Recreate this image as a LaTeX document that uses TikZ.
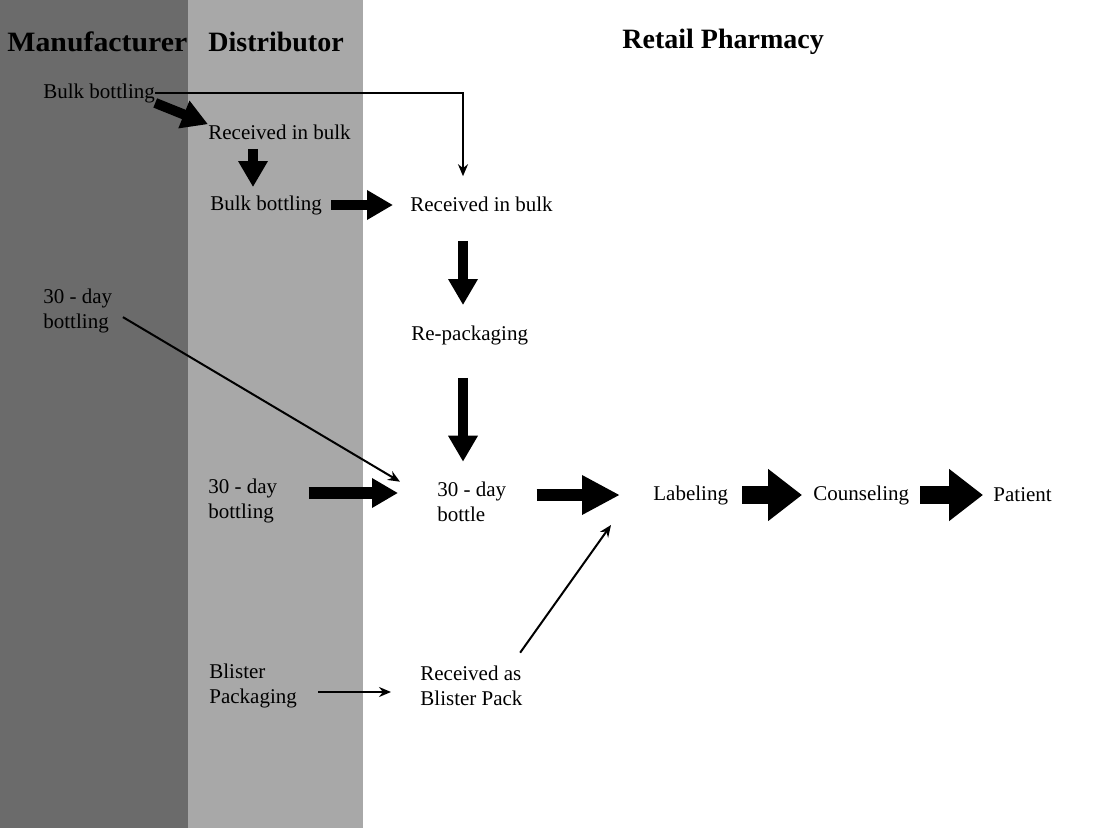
\documentclass[tikz,border=0pt]{standalone}
\usepackage{fontspec}
\usepackage{graphicx}
\setmainfont{Liberation Serif}
\usetikzlibrary{arrows.meta}
\definecolor{manufgray}{gray}{0.42}
\definecolor{distgray}{gray}{0.66}
\tikzset{>=stealth}
\tikzset{
	% text styles
	lbl/.style={anchor=west,inner sep=0pt,align=left,font=\fontsize{10.5}{12.5}\selectfont},
	ttl/.style={anchor=west,inner sep=0pt,font=\fontsize{14}{16}\selectfont\bfseries},
	% arrow styles
	medarrow/.style={line width=5pt,-{Triangle[width=14pt,length=13pt]}},
	bigarrow/.style={line width=6pt,-{Triangle[width=18.5pt,length=19pt]}},
	hugearrow/.style={line width=9pt,-{Triangle[width=25pt,length=17pt]}},
	thinarrow/.style={line width=1pt,-{Stealth[length=6pt,width=5pt]}},
}

\begin{document}
\begin{tikzpicture}[x=0.5pt,y=-0.5pt]
	\useasboundingbox (0,0) rectangle (1101,828);
	\fill[manufgray] (0,0) rectangle (188,828);
	\fill[distgray] (188,0) rectangle (363,828);
	
	\node[ttl] (tman) at (7,42) {\scalebox{1.065}[1]{Manufacturer}};
	\node[ttl] (tdist) at (208,42) {Distributor};
	\node[ttl] (tretail) at (622,42) {Retail Pharmacy};
	
	\coordinate (daxis) at (253,0);
	\coordinate (raxis) at (463,0);
	\coordinate (join) at (611,525);
	
	\node[lbl] (mbulk) at (43,93) {Bulk bottling};
	\node[lbl] (drecv) at (208,132) {Received in bulk};
	\node[lbl] (dbulk) at (210,205) {Bulk bottling};
	\node[lbl] (rbulk) at (410,204) {Received in bulk};
	\node[lbl] (repack) at (411,335) {Re-packaging};
	\node[lbl] (m30) at (43,311) {30 - day\\bottling};
	\node[lbl] (d30) at (208,501) {30 - day\\bottling};
	\node[lbl] (rbottle) at (437,502) {30 - day\\bottle};
	\node[lbl] (dblister) at (209,686) {Blister\\Packaging};
	\node[lbl] (rblister) at (420,686) {Received as\\Blister Pack};
	\node[lbl] (label) at (653,495) {Labeling};
	\node[lbl] (counsel) at (813,495) {Counseling};
	\node[lbl] (patient) at (993,495) {Patient};
	
	% bulk path
	\draw[medarrow] (mbulk.south east) -- (drecv.north west);
	\draw[thinarrow] (mbulk.east) -| ([yshift=10pt]rbulk.north -| raxis);
	\draw[medarrow,shorten <=4.5pt,shorten >=4pt] (drecv.south -| daxis) -- (dbulk.north -| daxis);
	\draw[medarrow,shorten <=4.5pt,shorten >=8.5pt] (dbulk.east) -- (dbulk.east -| rbulk.west);
	\draw[medarrow,shorten <=14.5pt,shorten >=10pt] (rbulk.south -| raxis) -- (repack.north -| raxis);
	\draw[medarrow,shorten <=16.5pt,shorten >=10pt] (repack.south -| raxis) -- (rbottle.north -| raxis);
	
	% 30-day path
	\draw[thinarrow,shorten <=6pt] (m30.east) -- ([xshift=-18.5pt]rbottle.north west);
	\draw[medarrow,line width=6pt,shorten <=15.5pt,shorten >=19.5pt] ([yshift=4pt]d30.east) -- ([yshift=4pt]d30.east -| rbottle.west);
	\draw[bigarrow,shorten <=15pt,shorten >=16.5pt] (rbottle.east |- label.west) -- (label.west);
	
	% blister path
	\draw[thinarrow,shorten <=10.5pt,shorten >=14.5pt] ([yshift=-3pt]dblister.east) -- ([yshift=-3pt]dblister.east -| rblister.west);
	\draw[thinarrow,shorten <=8pt] ([xshift=-6pt]rblister.north east) -- (join);
	
	% to patient
	\draw[hugearrow,shorten <=7pt,shorten >=5.5pt] (label.east) -- (counsel.west);
	\draw[hugearrow,shorten <=5.5pt,shorten >=5pt] (counsel.east) -- (patient.west);
	
\end{tikzpicture}
\end{document}
